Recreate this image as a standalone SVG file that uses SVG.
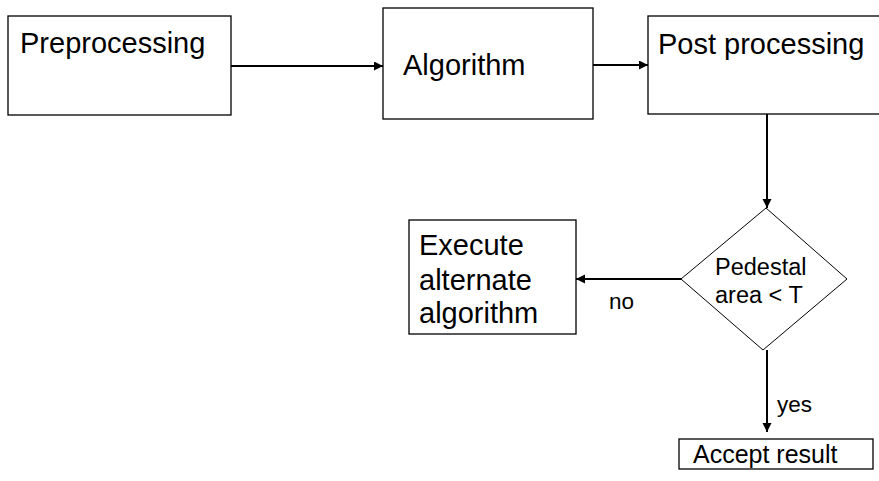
<svg xmlns="http://www.w3.org/2000/svg" width="879" height="481" viewBox="0 0 879 481">
<style>
.box{fill:#fff;stroke:#000;stroke-width:1.3}
.dia{fill:#fff;stroke:#000;stroke-width:1}
.t{font-family:"Liberation Sans",Arial,sans-serif;fill:#000}
.big{font-size:29px}
.mid{font-size:23.5px}
.sm{font-size:22.5px}
.con{stroke:#000;stroke-width:2;fill:none;marker-end:url(#ah)}
</style>
<defs>
<marker id="ah" markerUnits="userSpaceOnUse" markerWidth="10" markerHeight="10" refX="9" refY="4.5" orient="auto">
<path d="M0,0 L9,4.5 L0,9 Z" fill="#000"/>
</marker>
</defs>
<rect width="879" height="481" fill="#fff"/>
<g id="connectors">
<line class="con" x1="231" y1="66" x2="383" y2="66"/>
<line class="con" x1="593" y1="65" x2="648" y2="65"/>
<line class="con" x1="767" y1="114" x2="767" y2="208"/>
<line class="con" x1="681" y1="279" x2="576" y2="279"/>
<line class="con" x1="767" y1="350" x2="767" y2="432"/>
<text class="t sm" x="609" y="309">no</text>
<text class="t sm" x="777" y="412">yes</text>
</g>
<g id="preprocessing">
<rect class="box" x="8" y="16" width="223" height="99"/>
<text class="t big" x="20" y="53">Preprocessing</text>
</g>
<g id="algorithm">
<rect class="box" x="383" y="8" width="210" height="111"/>
<text class="t big" x="403" y="75">Algorithm</text>
</g>
<g id="postprocessing">
<rect class="box" x="648" y="16" width="250" height="98"/>
<text class="t big" x="658" y="54">Post processing</text>
</g>
<g id="decision">
<polygon class="dia" points="766,208 847,279 763,350 681,279"/>
<text class="t mid" x="715" y="275">Pedestal</text>
<text class="t mid" x="715" y="303">area &lt; T</text>
</g>
<g id="alternate">
<rect class="box" x="409" y="220" width="167" height="114"/>
<text class="t big" x="419" y="255">Execute</text>
<text class="t big" x="419" y="290">alternate</text>
<text class="t big" x="419" y="323">algorithm</text>
</g>
<g id="accept">
<rect class="box" x="679" y="439" width="194" height="30"/>
<text class="t" font-size="25" x="693" y="463">Accept result</text>
</g>
</svg>
